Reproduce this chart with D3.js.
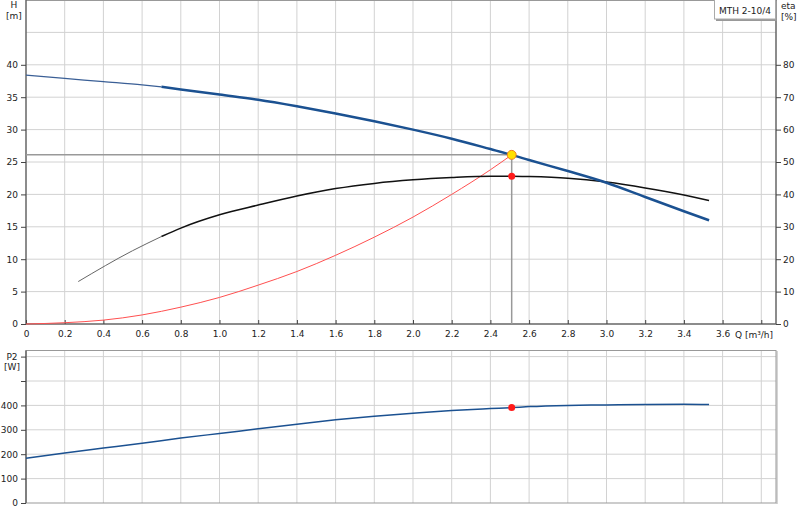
<!DOCTYPE html>
<html>
<head>
<meta charset="utf-8">
<script src="https://cdn.jsdelivr.net/npm/d3@7"></script>
<style>
  body { margin: 0; background: #fff; }
  svg { display: block; font-family: "DejaVu Sans", Verdana, sans-serif; font-size: 9px; }
  text { fill: #222; }
</style>
</head>
<body>
<svg id="chart" width="800" height="520"></svg>
<script>
// pump curve data
const qTicks = [0, 0.2, 0.4, 0.6, 0.8, 1.0, 1.2, 1.4, 1.6, 1.8, 2.0, 2.2, 2.4, 2.6, 2.8, 3.0, 3.2, 3.4, 3.6];
const hTicks = [0, 5, 10, 15, 20, 25, 30, 35, 40];
const etaTicks = [0, 10, 20, 30, 40, 50, 60, 70, 80];
const p2Ticks = [0, 100, 200, 300, 400];

const qH = [0, 0.2, 0.4, 0.6, 0.7, 0.8, 1.0, 1.2, 1.4, 1.6, 1.8, 2.0, 2.2, 2.4, 2.51, 2.6, 2.8, 3.0, 3.2, 3.4, 3.53];
const hValues = [38.4, 37.9, 37.4, 36.9, 36.6, 36.2, 35.4, 34.6, 33.6, 32.5, 31.3, 30.0, 28.6, 27.0, 26.1, 25.3, 23.6, 21.8, 19.6, 17.4, 16.0];

const qEta = [0.27, 0.55, 0.7, 0.8, 1.0, 1.2, 1.4, 1.6, 1.8, 2.0, 2.2, 2.4, 2.51, 2.6, 2.8, 3.0, 3.2, 3.4, 3.53];
const etaValues = [13.1, 22.6, 27.0, 29.6, 33.7, 36.7, 39.5, 41.8, 43.4, 44.5, 45.2, 45.6, 45.6, 45.5, 45.0, 43.8, 42.0, 39.8, 38.1];

const qSys = [0, 0.2, 0.4, 0.6, 0.8, 1.0, 1.2, 1.4, 1.6, 1.8, 2.0, 2.2, 2.4, 2.51];
const sysValues = [0, 0.2, 0.6, 1.4, 2.6, 4.1, 6.0, 8.1, 10.6, 13.4, 16.5, 20.0, 23.8, 26.1];

const qP2 = [0, 0.2, 0.4, 0.6, 0.8, 1.0, 1.2, 1.4, 1.6, 1.8, 2.0, 2.2, 2.4, 2.51, 2.6, 2.8, 3.0, 3.2, 3.4, 3.53];
const p2Values = [183, 205, 225, 245, 266, 285, 304, 323, 341, 356, 368, 379, 387, 391, 395, 400, 402, 404, 405, 404];

const dutyQ = 2.51, dutyH = 26.1, dutyEta = 45.6, dutyP2 = 391;
const thinUntil = 0.7;
const pumpName = "MTH 2-10/4";

const svg = d3.select("#chart");

const x = d3.scaleLinear().domain([0, 3.876]).range([26, 776]);
const yH = d3.scaleLinear().domain([0, 50]).range([324, 0]);
const yEta = d3.scaleLinear().domain([0, 100]).range([324, 0]);
const yP = d3.scaleLinear().domain([0, 625]).range([503, 350.5]);

const gridColor = "#d2d2d2";
const blue = "#1b5191";

// ---------- top panel grid ----------
const topPanel = svg.append("g");
topPanel.selectAll("line.vg")
    .data(d3.range(1, 20).map(i => i * 0.2))
    .enter().append("line")
    .attr("x1", d => x(d)).attr("x2", d => x(d))
    .attr("y1", 0).attr("y2", 324)
    .attr("stroke", gridColor);
topPanel.selectAll("line.hg")
    .data(d3.range(1, 10).map(i => i * 5))
    .enter().append("line")
    .attr("x1", 26).attr("x2", 776)
    .attr("y1", d => yH(d)).attr("y2", d => yH(d))
    .attr("stroke", gridColor);
topPanel.append("line").attr("x1", 26).attr("x2", 776).attr("y1", 0.5).attr("y2", 0.5).attr("stroke", "#999");

// axes
topPanel.append("g")
    .attr("transform", "translate(26,0)")
    .call(d3.axisLeft(yH).tickValues(hTicks).tickSize(5).tickPadding(3))
    .call(g => g.select(".domain").attr("stroke", "#666").attr("stroke-width", 1.5).attr("d", "M0,0V324"));
topPanel.append("g")
    .attr("transform", "translate(776,0)")
    .call(d3.axisRight(yEta).tickValues(etaTicks).tickSize(5).tickPadding(2))
    .call(g => g.select(".domain").attr("stroke", "#666").attr("stroke-width", 1.5).attr("d", "M0,0V324"));
topPanel.append("g")
    .attr("transform", "translate(0,324)")
    .call(d3.axisBottom(x).tickValues(qTicks.concat([3.8])).tickSize(-4).tickPadding(7)
        .tickFormat(d => d === 3.8 ? "" : (d === 0 ? "0" : d3.format(".1f")(d))))
    .call(g => g.select(".domain").attr("stroke", "#666").attr("stroke-width", 1.5).attr("d", "M26,0H776"));

svg.selectAll(".tick line").attr("stroke", "#444");
svg.selectAll(".tick text").attr("fill", "#222").style("font-size", "9px").style("font-family", "DejaVu Sans, Verdana, sans-serif");

topPanel.append("text").attr("x", 735).attr("y", 337.5).text("Q [m³/h]");
topPanel.append("text").attr("x", 14).attr("y", 8).attr("text-anchor", "middle").text("H");
topPanel.append("text").attr("x", 14).attr("y", 19).attr("text-anchor", "middle").text("[m]");
topPanel.append("text").attr("x", 781).attr("y", 9).text("eta");
topPanel.append("text").attr("x", 781).attr("y", 19.5).text("[%]");

// duty point reference lines
topPanel.append("line")
    .attr("x1", x(0)).attr("x2", x(dutyQ))
    .attr("y1", yH(dutyH)).attr("y2", yH(dutyH))
    .attr("stroke", "#999").attr("stroke-width", 1.5);
topPanel.append("line")
    .attr("x1", x(dutyQ)).attr("x2", x(dutyQ))
    .attr("y1", yH(dutyH)).attr("y2", 324)
    .attr("stroke", "#999").attr("stroke-width", 1.5);

// curves
const hPts = qH.map((q, i) => [q, hValues[i]]);
const etaPts = qEta.map((q, i) => [q, etaValues[i]]);
const sysPts = qSys.map((q, i) => [q, sysValues[i]]);
const p2Pts = qP2.map((q, i) => [q, p2Values[i]]);

const lineH = d3.line().x(d => x(d[0])).y(d => yH(d[1])).curve(d3.curveMonotoneX);
const lineEta = d3.line().x(d => x(d[0])).y(d => yEta(d[1])).curve(d3.curveMonotoneX);
const lineP = d3.line().x(d => x(d[0])).y(d => yP(d[1])).curve(d3.curveMonotoneX);

topPanel.append("path").datum(sysPts).attr("d", lineH)
    .attr("fill", "none").attr("stroke", "#ff5050").attr("stroke-width", 1);

topPanel.append("path").datum(etaPts.filter(d => d[0] <= thinUntil)).attr("d", lineEta)
    .attr("fill", "none").attr("stroke", "#666").attr("stroke-width", 1);
topPanel.append("path").datum(etaPts.filter(d => d[0] >= thinUntil)).attr("d", lineEta)
    .attr("fill", "none").attr("stroke", "#111").attr("stroke-width", 1.5);

topPanel.append("path").datum(hPts.filter(d => d[0] <= thinUntil)).attr("d", lineH)
    .attr("fill", "none").attr("stroke", "#3a5f96").attr("stroke-width", 1.2);
topPanel.append("path").datum(hPts.filter(d => d[0] >= thinUntil)).attr("d", lineH)
    .attr("fill", "none").attr("stroke", blue).attr("stroke-width", 2.5);

topPanel.append("circle").attr("cx", x(dutyQ)).attr("cy", yEta(dutyEta)).attr("r", 3.5).attr("fill", "#ff1a1a");
topPanel.append("circle").attr("cx", x(dutyQ)).attr("cy", yH(dutyH)).attr("r", 4.5)
    .attr("fill", "#ffe000").attr("stroke", "#f08020").attr("stroke-width", 1);

// pump name box
const box = svg.append("g");
box.append("rect").attr("x", 716).attr("y", 1).attr("width", 61).attr("height", 20).attr("fill", "#999");
box.append("rect").attr("x", 714.5).attr("y", -1).attr("width", 61).attr("height", 20)
    .attr("fill", "#fff").attr("stroke", "#aaa");
box.append("text").attr("x", 745).attr("y", 13.5).attr("text-anchor", "middle").text(pumpName);

// ---------- bottom panel ----------
const botPanel = svg.append("g");
botPanel.selectAll("line.vg")
    .data(d3.range(1, 20).map(i => i * 0.2))
    .enter().append("line")
    .attr("x1", d => x(d)).attr("x2", d => x(d))
    .attr("y1", 350.5).attr("y2", 503)
    .attr("stroke", gridColor);
botPanel.selectAll("line.hg")
    .data([100, 200, 300, 400, 500, 600])
    .enter().append("line")
    .attr("x1", 26).attr("x2", 776)
    .attr("y1", d => yP(d)).attr("y2", d => yP(d))
    .attr("stroke", gridColor);
botPanel.append("rect").attr("x", 26).attr("y", 350.5).attr("width", 750).attr("height", 152.5)
    .attr("fill", "none").attr("stroke", "#999");
botPanel.append("line").attr("x1", 777).attr("x2", 777).attr("y1", 351).attr("y2", 504).attr("stroke", "#aaa");

botPanel.append("g")
    .attr("transform", "translate(26,0)")
    .call(d3.axisLeft(yP).tickValues(p2Ticks.concat([500, 600])).tickSize(5).tickPadding(3)
        .tickFormat(d => d > 400 ? "" : d))
    .call(g => g.select(".domain").attr("stroke", "#666").attr("stroke-width", 1.5).attr("d", "M0,350.5V503"));
botPanel.selectAll(".tick line").attr("stroke", "#444");
botPanel.selectAll(".tick text").attr("fill", "#222").style("font-size", "9px").style("font-family", "DejaVu Sans, Verdana, sans-serif");

botPanel.append("text").attr("x", 12).attr("y", 359.5).attr("text-anchor", "middle").text("P2");
botPanel.append("text").attr("x", 12).attr("y", 370).attr("text-anchor", "middle").text("[W]");

botPanel.append("path").datum(p2Pts).attr("d", lineP)
    .attr("fill", "none").attr("stroke", blue).attr("stroke-width", 1.5);
botPanel.append("circle").attr("cx", x(dutyQ)).attr("cy", yP(dutyP2)).attr("r", 3.5).attr("fill", "#ff1a1a");
</script>
</body>
</html>
